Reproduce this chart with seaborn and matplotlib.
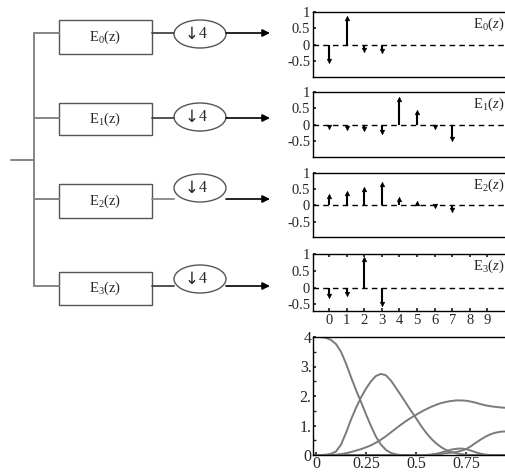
import matplotlib
matplotlib.use("Agg")
import matplotlib.pyplot as plt
import seaborn as sns
import pandas as pd
from matplotlib.patches import Rectangle, Ellipse

# impulse responses of the four polyphase branches
taps_e0 = [0, 1, 2, 3]
vals_e0 = [-0.5, 0.83, -0.17, -0.2]
taps_e1 = [0, 1, 2, 3, 4, 5, 6, 7]
vals_e1 = [-0.08, -0.1, -0.15, -0.22, 0.78, 0.4, -0.08, -0.45]
taps_e2 = [0, 1, 2, 3, 4, 5, 6, 7]
vals_e2 = [0.3, 0.38, 0.5, 0.65, 0.2, 0.08, -0.03, -0.15]
taps_e3 = [0, 1, 2, 3]
vals_e3 = [-0.25, -0.18, 0.85, -0.5]
branch_names = ["E$_0$(z)", "E$_1$(z)", "E$_2$(z)", "E$_3$(z)"]
panel_names = ["E$_0$($z$)", "E$_1$($z$)", "E$_2$($z$)", "E$_3$($z$)"]
tap_ticks = [0, 1, 2, 3, 4, 5, 6, 7, 8, 9]

# magnitude responses
freq = [0, 0.025, 0.05, 0.075, 0.1, 0.125, 0.15, 0.175, 0.2, 0.225, 0.25,
        0.275, 0.3, 0.325, 0.35, 0.375, 0.4, 0.425, 0.45, 0.475, 0.5,
        0.525, 0.55, 0.575, 0.6, 0.625, 0.65, 0.675, 0.7, 0.725, 0.75,
        0.775, 0.8, 0.825, 0.85, 0.875, 0.9, 0.925, 0.95, 0.975, 1.0]
mag_a = [4.0, 4.0, 3.97, 3.9, 3.76, 3.5, 3.1, 2.64, 2.2, 1.8, 1.38, 0.98,
         0.62, 0.35, 0.17, 0.07, 0.02, 0, 0, 0, 0, 0, 0, 0.01, 0.04, 0.08,
         0.13, 0.18, 0.21, 0.22, 0.2, 0.15, 0.09, 0.04, 0.01, 0, 0, 0, 0, 0, 0]
mag_b = [0, 0, 0.01, 0.04, 0.12, 0.35, 0.75, 1.2, 1.6, 1.95, 2.25, 2.5, 2.68,
         2.75, 2.7, 2.52, 2.27, 2.02, 1.76, 1.5, 1.25, 0.99, 0.76, 0.56, 0.4,
         0.27, 0.17, 0.1, 0.06, 0.03, 0.01, 0, 0, 0, 0, 0, 0, 0, 0, 0, 0]
mag_c = [0, 0, 0, 0, 0.01, 0.03, 0.06, 0.1, 0.15, 0.2, 0.26, 0.33, 0.42, 0.52,
         0.64, 0.77, 0.9, 1.03, 1.15, 1.26, 1.36, 1.46, 1.55, 1.63, 1.7, 1.76,
         1.8, 1.83, 1.85, 1.85, 1.84, 1.81, 1.77, 1.72, 1.68, 1.65, 1.63, 1.61,
         1.6, 1.6, 1.6]
mag_d = [0, 0, 0, 0, 0, 0, 0, 0, 0, 0, 0, 0, 0, 0, 0, 0, 0, 0, 0, 0, 0, 0, 0,
         0.01, 0.02, 0.04, 0.06, 0.08, 0.1, 0.14, 0.2, 0.3, 0.42, 0.53, 0.63,
         0.71, 0.76, 0.79, 0.8, 0.8, 0.8]
freq_ticks = [0, 0.25, 0.5, 0.75, 1.0]
freq_labels = ["0", "0.25", "0.5", "0.75", "1"]
mag_ticks = [0, 1, 2, 3, 4]
mag_labels = ["0", "1.", "2.", "3.", "4"]

sns.set_theme(style="white")
plt.rcParams["font.family"] = ["Liberation Serif", "DejaVu Serif"]
plt.rcParams["mathtext.fontset"] = "custom"
plt.rcParams["mathtext.rm"] = "Liberation Serif"
plt.rcParams["mathtext.it"] = "Liberation Serif:italic"
plt.rcParams["axes.unicode_minus"] = False

W, H = 506, 475
fig = plt.figure(figsize=(W / 100, H / 100), dpi=100)


def px_axes(left, top, right, bottom):
    return fig.add_axes([left / W, 1 - bottom / H, (right - left) / W, (bottom - top) / H])


# ---- block diagram ----
bg = px_axes(0, 0, W, H)
bg.set_xlim(0, W)
bg.set_ylim(H, 0)
bg.axis("off")

line_y = [33, 118, 199, 286]
box_y = [(20, 54), (103, 135), (184, 218), (272, 305)]
circ_y = [34, 117, 188, 279]
link_col = ["#444444", "#444444", "#888888", "#444444"]
tree = "#858585"

bg.plot([34, 34], [line_y[0], line_y[-1]], color=tree, lw=1.4)
bg.plot([11, 34], [160, 160], color=tree, lw=1.4)
for i in range(4):
    y = line_y[i]
    bg.plot([34, 59], [y, y], color=tree, lw=1.4)
    bg.add_patch(Rectangle((59, box_y[i][0]), 93, box_y[i][1] - box_y[i][0],
                           fill=False, ec="#555555", lw=1.0))
    bg.text(105.5, (box_y[i][0] + box_y[i][1]) / 2, branch_names[i],
            ha="center", va="center", fontsize=10.5)
    bg.plot([152, 174], [y, y], color=link_col[i], lw=1.3)
    bg.add_patch(Ellipse((200, circ_y[i]), 52, 28, fill=False, ec="#555555", lw=1.0))
    bg.text(199, circ_y[i], "\u2193", ha="right", va="center", fontsize=12,
            family=["DejaVu Sans"])
    bg.text(199, circ_y[i], "4", ha="left", va="center", fontsize=11.5)
    bg.annotate("", xy=(270, y), xytext=(226, y),
                arrowprops=dict(arrowstyle="-|>", color="black", lw=1.2,
                                mutation_scale=11, shrinkA=0, shrinkB=0))

# ---- stem panels ----
stem_taps = [taps_e0, taps_e1, taps_e2, taps_e3]
stem_vals = [vals_e0, vals_e1, vals_e2, vals_e3]
tops = [12, 92, 173, 254]
bottoms = [77, 157, 237, 311]
lows = [-1.0, -1.0, -0.97, -0.7]

for i in range(4):
    ax = px_axes(313, tops[i], 520, bottoms[i])
    df = pd.DataFrame({"n": stem_taps[i], "h": stem_vals[i]})
    ax.axhline(0, color="black", lw=1.0, ls=(0, (4, 3)))
    ax.vlines(df["n"], 0, df["h"], color="black", lw=1.5)
    sns.scatterplot(data=df[df["h"] >= 0], x="n", y="h", marker="^", s=12,
                    color="black", edgecolor="black", ax=ax, legend=False)
    sns.scatterplot(data=df[df["h"] < 0], x="n", y="h", marker="v", s=12,
                    color="black", edgecolor="black", ax=ax, legend=False)
    ax.set_xlim(-0.91, 10.85)
    ax.set_ylim(lows[i], 1.0)
    ax.set_yticks([-0.5, 0, 0.5, 1])
    ax.set_yticklabels(["-0.5", "0", "0.5", "1"])
    if i == 3:
        ax.set_xticks(tap_ticks)
        ax.set_xticklabels([str(t) for t in tap_ticks])
        ax.tick_params(axis="x", bottom=True, top=True, direction="in",
                       length=2, labelsize=10.5, pad=2)
    else:
        ax.set_xticks([])
    ax.tick_params(axis="y", left=True, direction="in", length=2,
                   labelsize=10.5, pad=2)
    ax.set_xlabel("")
    ax.set_ylabel("")
    for s in ax.spines.values():
        s.set_color("black")
        s.set_linewidth(1.0)
    fig.text(504 / W, 1 - (tops[i] + 12) / H, panel_names[i],
             ha="right", va="center", fontsize=10.5)

# ---- magnitude responses ----
axm = px_axes(313, 337, 516, 455)
for mag in [mag_a, mag_b, mag_c, mag_d]:
    sns.lineplot(x=freq, y=mag, color="#7a7a7a", lw=1.4, ax=axm)
axm.set_xlim(-0.015, 1.0)
axm.set_ylim(0, 4)
axm.set_xticks(freq_ticks)
axm.set_xticklabels(freq_labels)
axm.set_yticks(mag_ticks)
axm.set_yticklabels(mag_labels)
axm.set_yticks([0.5, 1.5, 2.5, 3.5], minor=True)
axm.tick_params(axis="both", which="both", left=True, bottom=True,
                direction="in", length=2, labelsize=11.5, pad=1)
for s in axm.spines.values():
    s.set_color("black")
    s.set_linewidth(1.0)

fig.savefig("out.png", dpi=100)
